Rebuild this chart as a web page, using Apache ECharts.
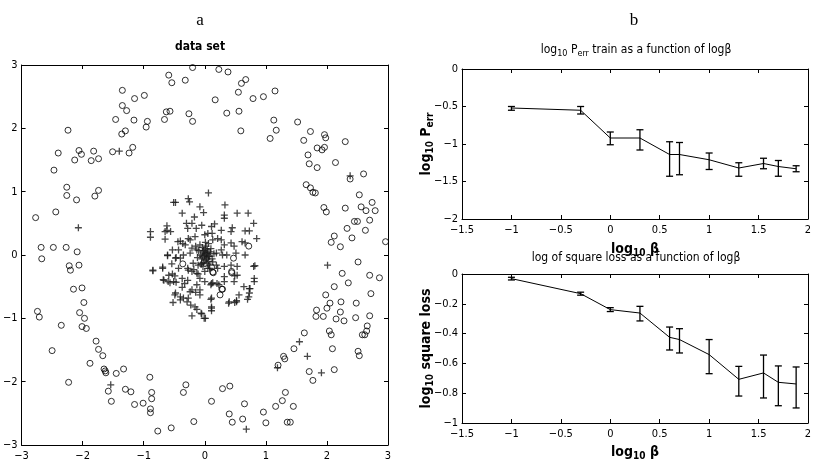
<!DOCTYPE html>
<html>
<head>
<meta charset="utf-8">
<script src="https://cdn.jsdelivr.net/npm/echarts@6/dist/echarts.min.js"></script>
<style>
  html, body { margin: 0; padding: 0; background: #fff; }
  #chart { width: 816px; height: 466px; }
</style>
</head>
<body>
<div id="chart"></div>
<script>
// ring of class "o" points (data set panel)
const circlePts = [
  [-0.20, 2.96], [-0.59, 2.84], [-0.54, 2.72], [-0.32, 2.76], [-1.35, 2.60], [-0.99, 2.52],
  [-1.15, 2.47], [-1.35, 2.36], [-1.28, 2.28], [-1.46, 2.14], [-1.16, 2.13], [-1.36, 1.91],
  [-1.30, 1.96], [-0.94, 2.11], [-0.96, 2.02], [-0.66, 2.14], [-0.63, 2.26], [-0.57, 2.27],
  [-0.26, 2.23], [-0.20, 2.11], [-2.24, 1.97], [-2.40, 1.61], [-2.47, 1.34], [-2.06, 1.65],
  [-2.02, 1.59], [-2.13, 1.50], [-1.86, 1.49], [-1.82, 1.64], [-1.74, 1.52], [-1.51, 1.63],
  [-1.18, 1.70], [-1.24, 1.61], [-2.26, 1.07], [-2.26, 0.94], [-2.10, 0.87], [-2.44, 0.68],
  [-1.74, 1.02], [-1.80, 0.93], [-2.77, 0.59], [-2.68, 0.12], [-2.48, 0.12], [-2.27, 0.12],
  [-2.09, 0.05], [-2.67, -0.06],
  [0.23, 2.93], [0.38, 2.89], [0.60, 2.71], [0.67, 2.77], [0.55, 2.57], [0.17, 2.45],
  [0.79, 2.47], [0.96, 2.50], [1.15, 2.59], [0.36, 2.24], [0.56, 2.27], [0.59, 1.96],
  [1.13, 2.13], [1.17, 1.97], [1.07, 1.84], [1.52, 2.10], [1.73, 1.95], [1.62, 1.81],
  [1.96, 1.90], [1.98, 1.85], [2.30, 1.79], [1.84, 1.69], [1.92, 1.66], [1.96, 1.70],
  [1.69, 1.58], [1.71, 1.44], [1.84, 1.38], [2.14, 1.46], [2.38, 1.20], [2.60, 1.28],
  [1.66, 1.11], [1.73, 1.06], [1.77, 0.99], [1.81, 0.98], [2.53, 0.95], [1.95, 0.75],
  [1.99, 0.68], [2.30, 0.74], [2.56, 0.76], [2.64, 0.70], [2.74, 0.83], [2.79, 0.70],
  [2.70, 0.55], [2.45, 0.53], [2.50, 0.53], [2.33, 0.42], [2.63, 0.39], [2.12, 0.30],
  [2.41, 0.27], [2.07, 0.20], [2.22, 0.13], [2.96, 0.21],
  [-2.22, -0.17], [-2.20, -0.24], [-2.06, -0.16], [-2.15, -0.54], [-2.01, -0.52], [-1.98, -0.75],
  [-2.05, -0.91], [-1.97, -1.00], [-2.01, -1.13], [-1.94, -1.16], [-2.74, -0.89], [-2.71, -0.98],
  [-2.35, -1.11], [-2.50, -1.51], [-1.78, -1.36], [-1.74, -1.49], [-1.67, -1.59], [-1.88, -1.71],
  [-1.65, -1.80], [-1.63, -1.83], [-1.62, -1.86], [-1.45, -1.87], [-1.33, -1.80], [-2.23, -2.01],
  [-0.90, -1.93], [-1.58, -2.15], [-1.53, -2.31], [-1.30, -2.12], [-1.21, -2.16], [-1.15, -2.36],
  [-1.01, -2.34], [-0.87, -2.17], [-0.87, -2.27], [-0.89, -2.43], [-0.89, -2.49], [-0.31, -2.05],
  [-0.35, -2.17], [-0.18, -2.63], [-0.77, -2.78], [-0.55, -2.73],
  [2.51, -0.11], [2.25, -0.29], [2.35, -0.44], [2.70, -0.32], [2.86, -0.36], [2.12, -0.50],
  [2.72, -0.61], [1.98, -0.63], [2.05, -0.76], [2.23, -0.74], [2.48, -0.76], [2.00, -0.84],
  [1.83, -0.87], [1.82, -0.97], [1.94, -0.97], [2.22, -0.90], [2.15, -1.01], [2.28, -1.04],
  [2.47, -0.99], [2.70, -0.96], [2.66, -1.12], [2.65, -1.20], [2.58, -1.26], [2.62, -1.26],
  [2.04, -1.20], [2.07, -1.26], [1.63, -1.23], [1.46, -1.48], [2.09, -1.48], [2.51, -1.52],
  [2.53, -1.59], [1.29, -1.60], [1.31, -1.64], [1.20, -1.74], [1.71, -1.84], [1.77, -1.98],
  [2.12, -1.81], [0.29, -2.11], [0.41, -2.07], [0.11, -2.31], [1.32, -2.17], [1.27, -2.30],
  [1.16, -2.39], [1.45, -2.39], [0.65, -2.35], [0.40, -2.51], [0.45, -2.64], [0.62, -2.59],
  [0.96, -2.48], [1.00, -2.65], [1.35, -2.64], [1.40, -2.64],
  // a few "o" inside the central cluster
  [0.72, 0.14], [0.47, -0.05], [-0.36, -0.14], [0.11, -0.19], [0.13, -0.27], [0.44, -0.26],
  [0.28, -0.54], [0.25, -0.63], [0.44, -0.28], [0.14, -0.28], [0.29, -0.54]
];

// central cluster of class "+" points
const plusPts = [
  [-1.40, 1.64], [-2.07, 0.43], [2.38, 1.25], [-1.54, -2.05], [2.01, -0.16], [1.55, -1.37],
  [1.68, -1.60], [1.19, -1.78], [1.91, -1.86], [0.68, -2.75],
  [0.06, 0.98], [-0.51, 0.83], [-0.48, 0.83], [-0.27, 0.89], [-0.25, 0.84], [-0.08, 0.76],
  [-0.02, 0.67], [0.33, 0.79], [0.32, 0.63], [0.32, 0.58], [0.53, 0.66], [0.71, 0.66],
  [0.80, 0.50], [-0.37, 0.66], [-0.17, 0.60], [-0.30, 0.50], [-0.21, 0.50], [-0.62, 0.46],
  [-0.62, 0.39], [-0.89, 0.37], [-0.89, 0.28], [-0.65, 0.37], [-0.56, 0.37], [-0.65, 0.25],
  [-0.40, 0.22], [-0.28, 0.42], [-0.14, 0.42], [-0.05, 0.47], [0.11, 0.45], [0.16, 0.49],
  [0.05, 0.34], [0.12, 0.34], [0.27, 0.39], [0.43, 0.37], [0.45, 0.43], [0.66, 0.38],
  [0.73, 0.38], [0.85, 0.26], [0.61, 0.21], [0.66, 0.19], [0.43, 0.19], [0.48, 0.14],
  [0.32, 0.16], [0.21, 0.26], [0.00, 0.32], [-0.16, 0.29], [-0.24, 0.24], [-0.36, 0.18],
  [-0.32, 0.16], [-0.44, 0.21], [-0.43, 0.08], [-0.53, 0.08], [-0.61, 0.00], [-0.48, -0.05],
  [-0.40, -0.05], [-0.69, -0.21], [-0.85, -0.24], [-0.59, -0.32], [-0.49, -0.33], [-0.68, -0.39],
  [-0.60, -0.42], [-0.51, -0.42], [-0.37, -0.37], [-0.33, -0.45], [-0.27, -0.24], [-0.21, -0.26],
  [-0.13, -0.29], [-0.08, -0.37], [0.00, -0.42], [-0.13, -0.47], [0.10, -0.47], [0.13, -0.44],
  [0.23, -0.47], [0.32, -0.42], [0.49, -0.33], [0.53, -0.18], [0.80, -0.18], [0.81, -0.37],
  [0.81, -0.42], [0.64, -0.50], [0.73, -0.53], [0.56, -0.63], [0.72, -0.66], [0.40, -0.74],
  [0.52, -0.72], [-0.49, -0.63], [-0.40, -0.66], [-0.35, -0.68], [-0.27, -0.68], [-0.23, -0.79],
  [-0.16, -0.82], [0.11, -0.68], [0.11, -0.82], [-0.21, -0.55], [-0.08, -0.55],
  [-0.52, -0.75], [-0.21, -0.96], [-0.13, -0.86], [-0.05, -0.93], [-0.01, -1.00], [0.11, -0.84],
  [0.11, -0.88], [0.10, -0.70], [-0.06, -0.92], [0.01, -1.00], [0.74, -0.53], [0.73, -0.60],
  [0.70, -0.70], [0.52, -0.74], [0.49, -0.75], [0.39, -0.76], [0.48, -0.42], [0.53, -0.32],
  [0.32, -0.34], [0.32, -0.18], [0.20, -0.45], [0.11, -0.45], [-0.08, -0.63], [0.82, -0.17],
  [-0.85, -0.25], [-0.69, -0.19], [-0.67, -0.40], [-0.57, -0.44], [-0.47, -0.43], [-0.53, -0.30],
  [-0.48, -0.60], [-0.37, -0.51], [-0.28, -0.40], [-0.24, -0.58], [-0.15, -0.59], [-0.40, -0.71],
  [-0.29, -0.74], [-0.61, -0.01], [-0.47, -0.04], [-0.35, 0.00], [-0.28, -0.21], [-0.18, -0.23],
  [-0.11, -0.30], [-0.43, -0.21], [-0.54, -0.14],
  [-0.27, 0.26], [0.13, 0.24], [0.27, 0.24], [-0.21, 0.11], [-0.13, 0.08], [-0.24, 0.03],
  [0.19, 0.03], [0.27, 0.08], [-0.19, -0.13], [-0.11, -0.16], [0.08, -0.21], [0.21, -0.21],
  [0.00, -0.26], [0.13, -0.11], [0.29, 0.00], [0.36, 0.00], [0.66, 0.00], [0.51, 0.03],
  [0.05, -0.21], [-0.05, -0.13], [0.19, -0.16], [0.43, -0.16],
  // dense core
  [0.00, 0.00], [-0.03, 0.05], [0.02, -0.04], [0.04, 0.08], [-0.05, -0.06], [0.01, 0.10],
  [0.06, -0.10], [-0.02, -0.12], [0.03, 0.02], [-0.04, 0.12], [0.05, 0.04], [-0.07, 0.00],
  [0.08, -0.02], [0.00, -0.08], [-0.01, 0.03], [0.02, 0.14], [-0.10, 0.07], [0.10, 0.10],
  [-0.06, -0.15], [0.07, -0.16], [0.03, -0.06], [-0.02, 0.07], [0.09, 0.05], [0.04, -0.13],
  [-0.08, 0.16], [0.06, 0.18], [-0.12, -0.04], [0.12, -0.06], [-0.03, -0.18], [0.01, 0.20],
  [-0.15, 0.14], [0.15, 0.02], [0.06, -0.02], [-0.04, -0.02]
];

// log10 beta positions
const logBeta = [-1, -0.3, 0, 0.3, 0.6, 0.7, 1, 1.3, 1.55, 1.7, 1.88];
// log10 Perr train
const errMean = [-0.52, -0.55, -0.92, -0.92, -1.14, -1.14, -1.21, -1.32, -1.26, -1.30, -1.33];
const errLow  = [-0.55, -0.60, -1.01, -1.08, -1.43, -1.41, -1.34, -1.43, -1.33, -1.43, -1.37];
const errHigh = [-0.50, -0.50, -0.84, -0.81, -0.97, -0.98, -1.12, -1.25, -1.19, -1.22, -1.29];
// log10 square loss
const lossMean = [-0.031, -0.132, -0.239, -0.262, -0.425, -0.440, -0.541, -0.707, -0.664, -0.727, -0.738];
const lossLow  = [-0.040, -0.142, -0.252, -0.315, -0.510, -0.530, -0.669, -0.819, -0.832, -0.884, -0.899];
const lossHigh = [-0.022, -0.122, -0.226, -0.217, -0.356, -0.367, -0.440, -0.620, -0.544, -0.617, -0.624];

const FONT = '"Liberation Sans Narrow", "DejaVu Sans Condensed", "Liberation Sans", Arial, sans-serif';
const minus = v => String(Math.round(v * 100) / 100).replace('-', '\u2212');

function pair(data) { return logBeta.map((x, i) => [x, data[i]]); }
function bars(lo, hi) { return logBeta.map((x, i) => [x, lo[i], hi[i]]); }

// error bars drawn through the axis scales
function errorBarItem(params, api) {
  const x = api.value(0);
  const top = api.coord([x, api.value(2)]);
  const bot = api.coord([x, api.value(1)]);
  const w = 3.5;
  const st = { stroke: '#000', lineWidth: 1.3 };
  return {
    type: 'group',
    children: [
      { type: 'line', shape: { x1: top[0], y1: top[1], x2: bot[0], y2: bot[1] }, style: st },
      { type: 'line', shape: { x1: top[0] - w, y1: top[1], x2: top[0] + w, y2: top[1] }, style: st },
      { type: 'line', shape: { x1: bot[0] - w, y1: bot[1], x2: bot[0] + w, y2: bot[1] }, style: st }
    ]
  };
}

const axisLine = { onZero: false, lineStyle: { color: '#000', width: 1 } };
const tick = { inside: true, length: 4, lineStyle: { color: '#000' } };
const lbl = { color: '#000', fontSize: 11, fontFamily: FONT, formatter: minus };

function axisPair(kind, grid, min, max, interval, name, gap) {
  const mainPos = kind === 'x' ? 'bottom' : 'left';
  const mirrorPos = kind === 'x' ? 'top' : 'right';
  const base = { type: 'value', gridIndex: grid, min, max, interval, splitLine: { show: false },
    axisLine, axisTick: tick };
  const main = Object.assign({}, base, { position: mainPos, axisLabel: Object.assign({ margin: kind === 'x' ? 6 : 4 }, lbl) });
  if (name) {
    Object.assign(main, {
      name, nameLocation: 'middle', nameGap: gap, nameMoveOverlap: false,
      nameRotate: kind === 'y' ? 90 : 0,
      nameTextStyle: {
        color: '#000', fontFamily: FONT, fontWeight: 'bold', fontSize: 14,
        rich: {
          b: { fontFamily: FONT, fontWeight: 'bold', fontSize: 14, color: '#000' },
          s: { fontFamily: FONT, fontWeight: 'bold', fontSize: 10, color: '#000', padding: [8, 0, 0, 0] }
        }
      }
    });
  }
  const mirror = Object.assign({}, base, { position: mirrorPos, axisLabel: { show: false } });
  return [main, mirror];
}

const xAxes = [
  ...axisPair('x', 0, -3, 3, 1),
  ...axisPair('x', 1, -1.5, 2, 0.5, '{b|log}{s|10}{b| β}', 21),
  ...axisPair('x', 2, -1.5, 2, 0.5, '{b|log}{s|10}{b| β}', 20)
];
const yAxes = [
  ...axisPair('y', 0, -3, 3, 1),
  ...axisPair('y', 1, -2, 0, 0.5, '{b|log}{s|10}{b| P}{s|err}', 27),
  ...axisPair('y', 2, -1, 0, 0.2, '{b|log}{s|10}{b| square loss}', 27)
];

const titleRich = {
  t: { fontFamily: FONT, fontSize: 12, fontWeight: 'normal', color: '#000' },
  s: { fontFamily: FONT, fontSize: 9, fontWeight: 'normal', color: '#000', padding: [8, 0, 0, 0] }
};

const option = {
  animation: false,
  backgroundColor: '#fff',
  title: [
    { text: 'a', left: 200, top: 12, textAlign: 'center', padding: 0,
      textStyle: { fontFamily: '"Liberation Serif", serif', fontSize: 17, fontWeight: 'normal', color: '#000' } },
    { text: 'b', left: 634, top: 12, textAlign: 'center', padding: 0,
      textStyle: { fontFamily: '"Liberation Serif", serif', fontSize: 17, fontWeight: 'normal', color: '#000' } },
    { text: 'data set', left: 200, top: 41, textAlign: 'center', padding: 0,
      textStyle: { fontFamily: FONT, fontSize: 12, fontWeight: 'bold', color: '#000' } },
    { text: '{t|log}{s|10}{t| P}{s|err}{t| train as a function of logβ}', left: 636, top: 41, textAlign: 'center', padding: 0,
      textStyle: { fontWeight: 'normal', rich: titleRich } },
    { text: '{t|log of square loss as a function of logβ}', left: 636, top: 252, textAlign: 'center', padding: 0,
      textStyle: { fontWeight: 'normal', rich: titleRich } }
  ],
  grid: [
    { left: 12, top: 65, width: 376, height: 380 },
    { left: 462, top: 69, width: 346, height: 150 },
    { left: 462, top: 274, width: 346, height: 149 }
  ],
  xAxis: xAxes,
  yAxis: yAxes,
  series: [
    {
      type: 'scatter', xAxisIndex: 0, yAxisIndex: 0, data: circlePts,
      symbol: 'circle', symbolSize: 6,
      itemStyle: { color: 'rgba(255,255,255,0)', borderColor: '#000', borderWidth: 1 }
    },
    {
      type: 'scatter', xAxisIndex: 0, yAxisIndex: 0, data: plusPts,
      symbol: 'path://M-0.65,-3.5H0.65V-0.65H3.5V0.65H0.65V3.5H-0.65V0.65H-3.5V-0.65H-0.65Z', symbolSize: 7,
      itemStyle: { color: '#1a1a1a' }
    },
    {
      type: 'line', xAxisIndex: 2, yAxisIndex: 2, data: pair(errMean),
      showSymbol: false, lineStyle: { color: '#000', width: 1 }
    },
    {
      type: 'custom', xAxisIndex: 2, yAxisIndex: 2, data: bars(errLow, errHigh),
      renderItem: errorBarItem
    },
    {
      type: 'line', xAxisIndex: 4, yAxisIndex: 4, data: pair(lossMean),
      showSymbol: false, lineStyle: { color: '#000', width: 1 }
    },
    {
      type: 'custom', xAxisIndex: 4, yAxisIndex: 4, data: bars(lossLow, lossHigh),
      renderItem: errorBarItem
    }
  ]
};

const chart = echarts.init(document.getElementById('chart'), null, { renderer: 'canvas' });
chart.setOption(option);
</script>
</body>
</html>
